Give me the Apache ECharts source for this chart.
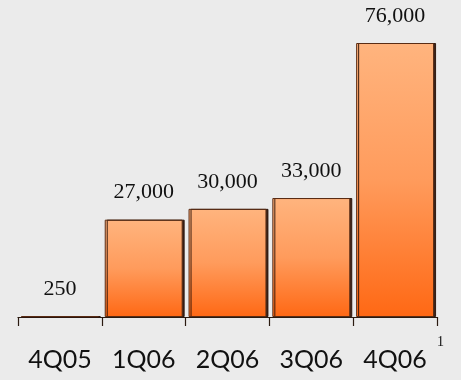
<!DOCTYPE html>
<html>
<head>
<meta charset="utf-8">
<script src="https://cdn.jsdelivr.net/npm/echarts@6/dist/echarts.min.js"></script>
<style>
html,body{margin:0;padding:0;background:#ebebeb;}
#c{width:461px;height:380px;}
</style>
</head>
<body>
<div id="c"></div>
<script>
const categories = ['4Q05', '1Q06', '2Q06', '3Q06', '4Q06'];
const values = [250, 27000, 30000, 33000, 76000];
const footnote = '1';

const chart = echarts.init(document.getElementById('c'), null, {renderer: 'canvas'});
chart.setOption({
  backgroundColor: '#ebebeb',
  animation: false,
  grid: {left: 18, right: 24, top: 43, bottom: 63},
  xAxis: {
    type: 'category',
    data: categories,
    axisLine: {show: true, lineStyle: {color: '#2a1a10', width: 1.2}},
    axisTick: {show: true, interval: 0, length: 9, lineStyle: {color: '#2a1a10', width: 1.2}},
    axisLabel: {
      interval: 0, color: '#111', fontFamily: 'Lato', fontSize: 25, margin: 30
    }
  },
  yAxis: {
    type: 'value', min: 0, max: 76000, show: false,
    splitLine: {show: false}
  },
  series: [{
    type: 'bar',
    data: values,
    barCategoryGap: '7%',
    itemStyle: {
      color: new echarts.graphic.LinearGradient(0, 0, 0, 1, [
        {offset: 0, color: '#ffb47e'},
        {offset: 0.5, color: '#ff9b5c'},
        {offset: 1, color: '#ff6814'}
      ]),
      borderColor: '#5a2c14',
      borderWidth: 1,
      shadowColor: 'rgba(40,15,5,0.9)',
      shadowBlur: 0,
      shadowOffsetX: 2,
      shadowOffsetY: 0
    },
    label: {
      show: true, position: 'top', distance: 16,
      color: '#111', fontFamily: 'Liberation Serif', fontSize: 22,
      formatter: p => p.value.toLocaleString('en-US')
    }
  }],
  graphic: [{
    type: 'text', left: 437, top: 335,
    style: {text: footnote, fill: '#111', font: '14px "Liberation Serif"'}
  }]
});
</script>
</body>
</html>
